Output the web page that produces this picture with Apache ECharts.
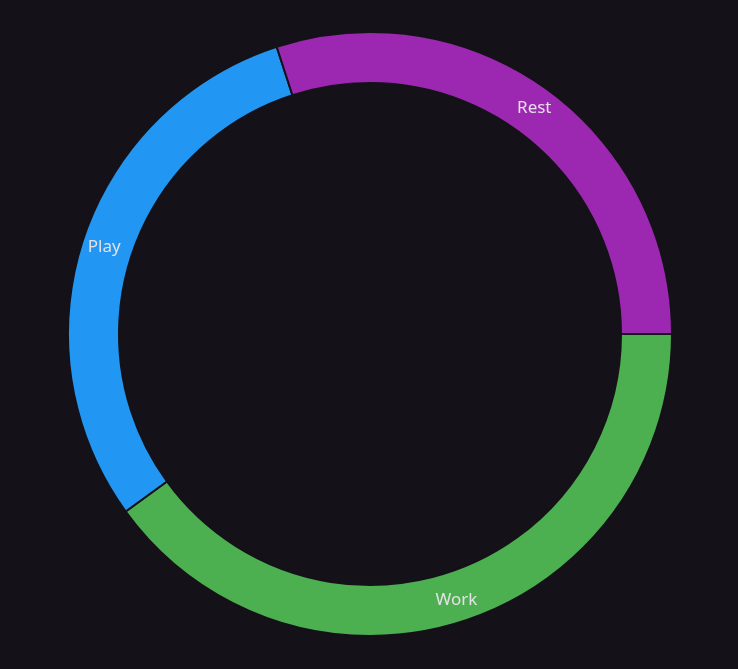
<!DOCTYPE html>
<html>
<head>
    <meta charset="utf-8">
    <title>ECharts</title>
    <style>
        html,body{
            width:100%;
            height:100%;
            overflow:hidden;
            padding:0;
            margin:0;
            background:#141218;
        }
        #main{
            width:738px;height:669px;
        }
    </style>
    <script src="https://cdn.jsdelivr.net/npm/echarts@6/dist/echarts.min.js"></script>
</head>
<body>
<div id="main"></div>

<script type="text/javascript">
    // slice names and values, clockwise from 3 o'clock
    var names = ['Work', 'Play', 'Rest'];
    var values = [40, 30, 30];
    var colors = ['#4CAF50', '#2196F3', '#9C27B0'];

    var myChart = echarts.init(document.getElementById('main'));

    var data = names.map(function (n, i) {
        return { name: n, value: values[i], itemStyle: { color: colors[i] } };
    });

    myChart.setOption({
        backgroundColor: '#141218',
        animation: false,
        series: [{
            type: 'pie',
            center: [370, 334],
            radius: [251, 302],
            startAngle: 0,
            clockwise: true,
            itemStyle: {
                borderColor: '#141218',
                borderWidth: 2
            },
            label: {
                show: true,
                position: 'inside',
                color: '#E6E0E9',
                fontSize: 17,
                fontFamily: 'Noto Sans'
            },
            labelLine: { show: false },
            data: data
        }]
    });
</script>
</body>
</html>
